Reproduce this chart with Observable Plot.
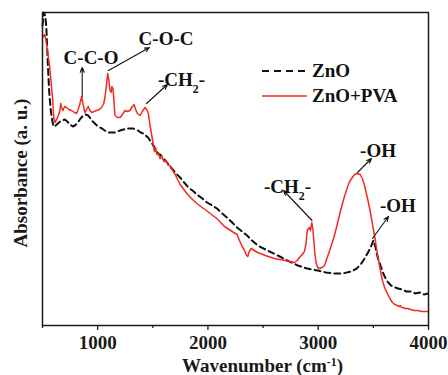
<!DOCTYPE html>
<html>
<head>
<meta charset="utf-8">
<script src="https://cdn.jsdelivr.net/npm/d3@7"></script>
<script src="https://cdn.jsdelivr.net/npm/@observablehq/plot@0.6"></script>
<style>
  body { margin: 0; background: white; }
  #wrap { position: relative; width: 448px; height: 375px; font-family: 'Liberation Serif', 'Times New Roman', serif; font-weight: bold; color: #111; }
  #legend { position: absolute; left: 262px; top: 58px; font-size: 19px; }
  .row { display: flex; align-items: center; height: 25px; line-height: 25px; }
  .row svg { margin-right: 5px; }
</style>
</head>
<body>
<div id="wrap"></div>
<script>
// ZnO (dashed black)
const znoWavenumber = [500,512,525,535,548,560,575,590,600,620,640,660,680,703,725,748,775,794,820,845,870,890,915,935,955,975,994,1020,1039,1065,1094,1125,1157,1180,1203,1235,1266,1295,1321,1345,1366,1390,1412,1435,1457,1475,1494,1510,1530,1550,1566,1590,1621,1650,1673,1710,1748,1785,1824,1860,1900,1950,1991,2040,2082,2130,2173,2220,2264,2310,2355,2400,2451,2540,2633,2720,2815,2900,2996,3070,3148,3220,3300,3350,3391,3420,3451,3475,3500,3520,3540,3565,3590,3620,3660,3700,3724,3760,3800,3845,3880,3920,3960,3996];
const znoAbsorbance = [300,313,310,298,262,235,215,204,199,200,202,204,205,206,204,201,199,200,203,207,210,211,210,207,204,202,200,198,197,195,193,193,193,194,195,196,197,197,197,196,195,193,192,190,188,185,182,179,175,172,171,168,164,160,157,152,148,143,138,135,131,127,123,120,117,112,108,103,98,94,90,85,80,75,70,65,60,57,55,53,52,52,54,57,62,67,73,78,85,78,68,60,52,45,40,38,37,36,34,34,32,33,31,32];

// ZnO+PVA (solid red)
const pvaWavenumber = [500,520,530,545,566,580,591,603,612,628,643,658,665,673,685,700,718,740,764,790,809,830,855,870,885,900,915,930,945,970,991,1015,1036,1055,1066,1080,1091,1102,1112,1122,1130,1140,1148,1157,1180,1203,1225,1248,1270,1294,1315,1330,1345,1360,1385,1405,1430,1445,1460,1475,1491,1505,1515,1525,1536,1550,1566,1580,1600,1620,1640,1657,1680,1703,1725,1748,1775,1809,1850,1900,1960,2021,2080,2150,2220,2264,2286,2310,2332,2346,2361,2375,2392,2420,2452,2520,2603,2700,2785,2810,2830,2855,2875,2890,2900,2912,2921,2930,2942,2952,2960,2970,2982,2995,3012,3035,3057,3082,3110,3142,3170,3203,3235,3264,3285,3309,3330,3355,3380,3400,3420,3445,3470,3491,3515,3536,3560,3582,3605,3627,3650,3673,3695,3718,3735,3745,3755,3764,3790,3809,3840,3869,3900,3940,3991];
const pvaAbsorbance = [288,291,286,275,258,240,228,207,203,206,210,215,222,218,215,219,218,216,215,213,212,218,229,220,213,216,219,215,213,214,215,216,218,222,228,240,252,245,235,233,239,236,225,210,208,208,211,215,214,215,219,221,216,212,210,214,218,216,212,200,190,180,174,178,171,172,167,169,164,165,160,160,155,151,146,141,137,132,127,122,117,112,107,99,94,91,85,79,75,71,69,74,77,75,73,70,67,65,63,65,68,71,74,82,95,97,98,95,103,96,85,72,62,58,57,58,60,68,77,88,100,115,128,138,144,148,151,152,151,147,140,128,115,102,87,72,57,45,37,32,27,23,21,20,19,20,18,18,17,17,16,15,15,14,14];

// Series names
const seriesNames = ["ZnO", "ZnO+PVA"];

// Peak annotations
const annotLabels = ["C-C-O", "C-O-C", "-CH_{2}-", "-CH_{2}-", "-OH", "-OH"];
const annotX = [940, 1620, 1760, 2721, 3542, 3723];
const annotY = [268, 286.5, 246, 139, 175, 120];
const arrowX1 = [860, 1098, 1443, 2944, 3356, 3492];
const arrowY1 = [229, 255, 222, 105, 153, 87];
const arrowX2 = [860, 1470, 1633, 2685, 3483, 3637];
const arrowY2 = [258, 278, 241, 135, 167, 109];

// Axis ticks
const majorTicks = [1000, 2000, 3000, 4000];
const minorTicks = [500, 1500, 2500, 3500];
const xLabel = "Wavenumber (cm^{-1})";
const yLabel = "Absorbance (a. u.)";

const zno = znoWavenumber.map((x, i) => ({x, y: znoAbsorbance[i]}));
const pva = pvaWavenumber.map((x, i) => ({x, y: pvaAbsorbance[i]}));
const annots = annotLabels.map((t, i) => ({t, x: annotX[i], y: annotY[i]}));
const arrows = arrowX1.map((x1, i) => ({x1, y1: arrowY1[i], x2: arrowX2[i], y2: arrowY2[i]}));

const RED = "#f22a22";
const INK = "#1a1a1a";

const chart = Plot.plot({
  width: 448,
  height: 375,
  marginLeft: 42,
  marginRight: 20,
  marginTop: 12,
  marginBottom: 50,
  style: {
    fontFamily: "'Liberation Serif', 'Times New Roman', serif",
    fontSize: "19px",
    fontWeight: "bold",
    color: INK,
    background: "white",
    overflow: "visible"
  },
  x: {domain: [500, 4000]},
  y: {domain: [0, 313], axis: null},
  marks: [
    Plot.line(zno, {x: "x", y: "y", stroke: "#111", strokeWidth: 2, strokeDasharray: "6,4"}),
    Plot.line(pva, {x: "x", y: "y", stroke: RED, strokeWidth: 1.5}),
    Plot.arrow(arrows, {x1: "x1", y1: "y1", x2: "x2", y2: "y2", stroke: "#111", strokeWidth: 1.1, headLength: 7, headAngle: 45}),
    Plot.text(annots, {x: "x", y: "y", text: "t", textAnchor: "middle", lineAnchor: "middle", fill: "#111"}),
    Plot.frame({stroke: INK, strokeWidth: 1.5}),
    Plot.axisX({ticks: majorTicks, tickSize: 5, tickPadding: 5, tickFormat: d3.format("d"), label: null, strokeWidth: 1.3}),
    Plot.axisX({ticks: minorTicks, tickSize: 3, tickFormat: () => "", label: null, strokeWidth: 1.3}),
    Plot.text([xLabel], {frameAnchor: "bottom", textAnchor: "middle", lineAnchor: "middle", dx: 27, dy: 40, text: d => d}),
    Plot.text([yLabel], {frameAnchor: "left", textAnchor: "middle", lineAnchor: "middle", rotate: -90, dx: -22, dy: 4, text: d => d})
  ]
});

// sub/superscripts as tspans
d3.select(chart).selectAll("text").each(function() {
  const t = this.textContent;
  if (!/[_^]\{/.test(t)) return;
  const el = d3.select(this);
  el.text(null);
  const re = /([_^])\{([^}]*)\}/g;
  let last = 0, m;
  while ((m = re.exec(t))) {
    if (m.index > last) el.append("tspan").text(t.slice(last, m.index));
    el.append("tspan")
      .attr("baseline-shift", m[1] === "^" ? "super" : "sub")
      .attr("font-size", "0.62em")
      .text(m[2]);
    last = re.lastIndex;
  }
  if (last < t.length) el.append("tspan").text(t.slice(last));
});

const wrap = document.getElementById("wrap");
wrap.appendChild(chart);

// legend
const legend = document.createElement("div");
legend.id = "legend";
const styles = [
  {stroke: "#111", width: 2, dash: "7,5"},
  {stroke: RED, width: 1.5, dash: null}
];
seriesNames.forEach((name, i) => {
  const row = document.createElement("div");
  row.className = "row";
  const s = styles[i];
  row.innerHTML = `<svg width="45" height="4"><line x1="0" x2="45" y1="2" y2="2" stroke="${s.stroke}" stroke-width="${s.width}" ${s.dash ? `stroke-dasharray="${s.dash}"` : ""}/></svg><span>${name}</span>`;
  legend.appendChild(row);
});
wrap.appendChild(legend);
</script>
</body>
</html>
